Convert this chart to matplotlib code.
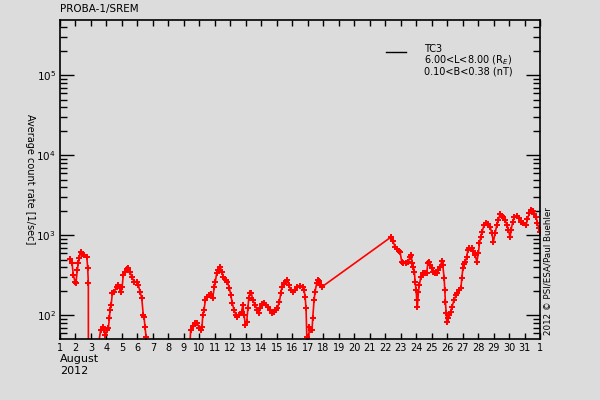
import matplotlib
matplotlib.use("Agg")
import matplotlib.pyplot as plt
from matplotlib.ticker import NullFormatter

# Day of month (1 = 1 Aug 2012 00:00, 32 = 1 Sep) and TC3 count rate [1/sec]
days = [
    1.65, 1.78, 1.86, 1.97, 2.03, 2.12, 2.18, 2.25, 2.34, 2.42, 2.55, 2.73, 2.79, 2.83, 2.84,
    3.45, 3.63, 3.76, 3.84, 3.91, 4.02, 4.12, 4.19, 4.23, 4.30, 4.38, 4.51, 4.66, 4.77, 4.88,
    4.94, 5.01, 5.09, 5.20, 5.31, 5.41, 5.52, 5.63, 5.78, 5.96, 6.06, 6.17, 6.28, 6.38, 6.43,
    6.49, 6.56, 6.65,
    9.30, 9.44, 9.57, 9.72, 9.87, 10.00, 10.09, 10.17, 10.22, 10.30, 10.39, 10.52, 10.65,
    10.76, 10.86, 10.97, 11.03, 11.12, 11.23, 11.34, 11.45, 11.55, 11.72, 11.81, 11.94, 12.03,
    12.13, 12.24, 12.37, 12.45, 12.58, 12.74, 12.80, 12.89, 12.97, 13.06, 13.13, 13.19, 13.27,
    13.36, 13.45, 13.60, 13.75, 13.84, 13.92, 14.05, 14.18, 14.31, 14.44, 14.57, 14.70, 14.82,
    14.95, 15.04, 15.17, 15.26, 15.34, 15.47, 15.60, 15.68, 15.77, 15.90, 16.03, 16.18, 16.33,
    16.50, 16.68, 16.76, 16.83, 16.89, 16.94, 16.97,
    17.10, 17.20, 17.28, 17.32, 17.41, 17.47, 17.58, 17.69, 17.75, 17.84, 17.93,
    22.36, 22.49, 22.64, 22.75, 22.88, 22.96, 23.07, 23.18, 23.35, 23.50, 23.61, 23.68, 23.74,
    23.82, 23.89, 23.93, 24.00, 24.04, 24.08, 24.15, 24.21, 24.30, 24.43, 24.58, 24.69, 24.75,
    24.86, 24.90, 25.01, 25.12, 25.23, 25.34, 25.44, 25.55, 25.66, 25.72, 25.81, 25.85, 25.89,
    25.94, 25.98, 26.07, 26.15, 26.24, 26.32, 26.45, 26.58, 26.67, 26.80, 26.89, 26.95, 27.02,
    27.10, 27.18, 27.27, 27.34, 27.44, 27.60, 27.70, 27.81, 27.92, 28.02, 28.09, 28.18, 28.26,
    28.39, 28.52, 28.67, 28.78, 28.89, 28.99, 29.10, 29.21, 29.31, 29.42, 29.53, 29.64, 29.75,
    29.86, 29.96, 30.07, 30.13, 30.24, 30.35, 30.50, 30.63, 30.76, 30.93, 31.10, 31.19, 31.32,
    31.43, 31.54, 31.64, 31.75, 31.83, 31.92, 32.00,
]
rate = [
    504, 449, 321, 265, 257, 371, 449, 519, 627, 587, 571, 543, 389, 253, 1,
    40, 66, 71, 66, 57, 66, 69, 92, 117, 135, 189, 198, 229, 240, 219,
    198, 225, 321, 353, 378, 389, 353, 305, 265, 265, 240, 198, 164, 101, 95,
    72, 54, 20,
    20, 66, 74, 81, 80, 69, 66, 71, 101, 117, 156, 172, 180,
    186, 164, 229, 265, 337, 371, 407, 353, 305, 278, 265, 219, 180,
    142, 117, 101, 97, 101, 112, 135, 101, 76, 84, 123, 164, 189,
    189, 156, 135, 117, 107, 123, 139, 142, 135, 129, 117, 108, 112,
    117, 123, 149, 189, 229, 253, 265, 278, 240, 208, 198, 208, 229,
    234, 229, 208, 172, 123, 54, 20,
    72, 66, 66, 92, 156, 198, 253, 278, 272, 240, 229,
    950, 861, 724, 672, 646, 627, 470, 449, 449, 470, 543, 571, 449,
    407, 353, 265, 208, 156, 129, 198, 240, 305, 337, 337, 343, 449,
    470, 428, 389, 353, 337, 343, 371, 407, 480, 428, 292, 208, 149,
    107, 84, 92, 101, 112, 129, 156, 180, 189, 208, 219, 292, 389,
    440, 470, 543, 659, 692, 692, 646, 571, 470, 599, 799, 966, 1115,
    1352, 1421, 1393, 1288, 1065, 837, 1065, 1352, 1563, 1857, 1753, 1689, 1563,
    1352, 1171, 950, 1171, 1488, 1689, 1753, 1641, 1488, 1421, 1352, 1594, 1928,
    2084, 2024, 1857, 1718, 1421, 1230, 1115,
]

day_ticks = list(range(1, 33))
day_labels = [str(d) for d in range(1, 32)] + ["1"]
decades = [1e2, 1e3, 1e4, 1e5]
decade_labels = ["10$^2$", "10$^3$", "10$^4$", "10$^5$"]
minor_ticks = [m * 10 ** e for e in range(1, 6) for m in range(2, 10)]

bg = "#dcdcdc"
fig = plt.figure(figsize=(6, 4), dpi=100, facecolor=bg)
ax = fig.add_axes([0.1, 0.1525, 0.8, 0.7975], facecolor=bg)

ax.plot(days, rate, color="red", lw=1.2, marker="+", ms=4, mew=1.4)

ax.set_yscale("log")
ax.set_xticks(day_ticks, day_labels)
ax.set_yticks(decades, decade_labels)
ax.set_yticks(minor_ticks, minor=True)
ax.yaxis.set_minor_formatter(NullFormatter())
ax.set_xlim(1, 32)
ax.set_ylim(50.8, 4.94e5)

ax.tick_params(axis="x", which="major", direction="in", length=4, width=1,
               top=True, labelsize=7, pad=3)
ax.tick_params(axis="y", which="major", direction="in", length=10, width=1,
               right=True, labelsize=7.5, pad=3)
ax.tick_params(axis="y", which="minor", direction="in", length=5, width=1,
               left=True, right=True, color="black")
for s in ax.spines.values():
    s.set_linewidth(1.2)

ax.set_ylabel("Average count rate [1/sec]", rotation=-90, fontsize=7, labelpad=8)

fig.text(0.1, 0.965, "PROBA-1/SREM", fontsize=7.5, ha="left", va="bottom")
fig.text(0.1, 0.114, "August", fontsize=8, ha="left", va="top")
fig.text(0.1, 0.084, "2012", fontsize=8, ha="left", va="top")
fig.text(0.913, 0.162, "2012 \u00a9 PSI/ESA/Paul Buehler", rotation=90,
         fontsize=6.3, ha="center", va="bottom")

# legend
ax.plot([0.68, 0.72], [0.9, 0.9], color="black", lw=1, transform=ax.transAxes)
ax.text(0.758, 0.925, "TC3\n6.00<L<8.00 (R$_E$)\n0.10<B<0.38 (nT)", transform=ax.transAxes,
        fontsize=7, ha="left", va="top", linespacing=0.95)

fig.savefig("out.png", dpi=100, facecolor=bg)
